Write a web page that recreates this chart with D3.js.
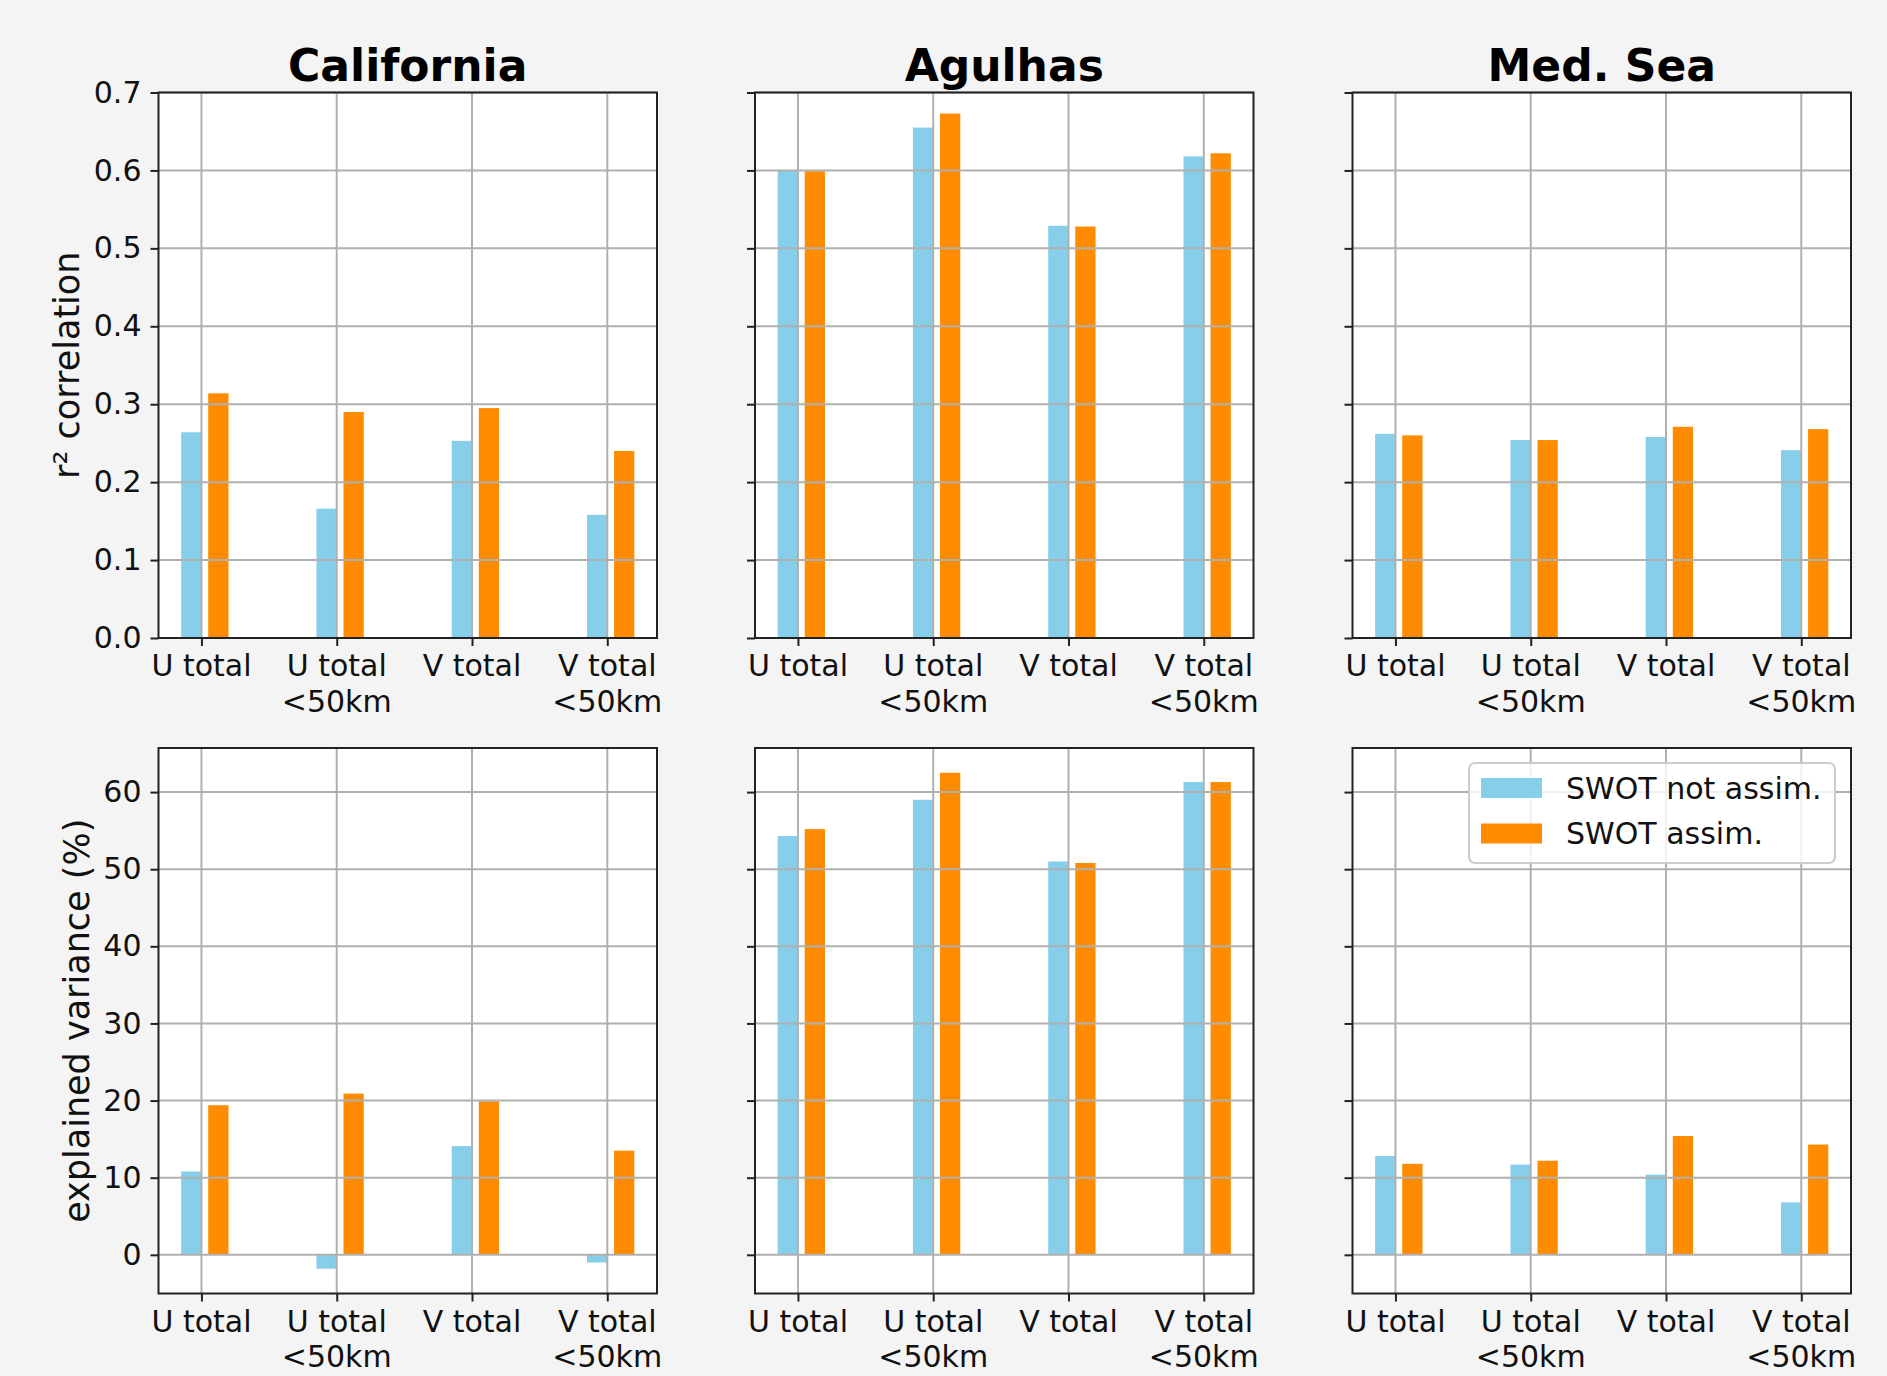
<!DOCTYPE html>
<html>
<head>
<meta charset="utf-8">
<script src="https://cdn.jsdelivr.net/npm/d3@7"></script>
<style>
  html, body { margin: 0; padding: 0; background: #f4f4f4; }
  svg { display: block; font-family: "DejaVu Sans", sans-serif; }
</style>
</head>
<body>
<svg id="chart" width="1887" height="1376"></svg>
<script>
// Regions (columns) and variables (x categories)
const regions = ["California", "Agulhas", "Med. Sea"];
const categories = [["U total"], ["U total", "<50km"], ["V total"], ["V total", "<50km"]];
const seriesNames = ["SWOT not assim.", "SWOT assim."];
const seriesColors = ["#87ceeb", "#ff8c00"];

// r² correlation, one row per region
const r2NotAssim = [
  [0.264, 0.166, 0.253, 0.158],
  [0.600, 0.655, 0.529, 0.618],
  [0.262, 0.254, 0.258, 0.241]
];
const r2Assim = [
  [0.314, 0.290, 0.295, 0.240],
  [0.599, 0.673, 0.528, 0.622],
  [0.260, 0.254, 0.271, 0.268]
];

// explained variance (%), one row per region
const varNotAssim = [
  [10.8, -1.8, 14.1, -1.0],
  [54.3, 59.0, 51.0, 61.3],
  [12.8, 11.7, 10.4, 6.8]
];
const varAssim = [
  [19.4, 20.9, 19.9, 13.5],
  [55.2, 62.5, 50.8, 61.3],
  [11.8, 12.2, 15.4, 14.3]
];

const r2Ticks = [0, 0.1, 0.2, 0.3, 0.4, 0.5, 0.6, 0.7];
const varTicks = [0, 10, 20, 30, 40, 50, 60];

// ---- layout ----
const svg = d3.select("#chart");
const panelLeft = [158.5, 755, 1352.5];
const panelW = 498.5;
const rows = [
  { top: 92.5, bottom: 638, label: "r\u00b2 correlation", labelX: 79,
    a: r2NotAssim, b: r2Assim, ticks: r2Ticks, fmt: d3.format(".1f"), domain: [0, 0.7] },
  { top: 748, bottom: 1293.5, label: "explained variance (%)", labelX: 89,
    a: varNotAssim, b: varAssim, ticks: varTicks, fmt: d3.format("d"), domain: null }
];

// shared y-limits for the variance row: data range (incl. 0) plus 5 % margins
{
  const all = varNotAssim.flat().concat(varAssim.flat(), [0]);
  const lo = d3.min(all), hi = d3.max(all), m = (hi - lo) * 0.05;
  rows[1].domain = [lo - m, hi + m];
}

// x positions: blue bar [i-0.15, i], orange bar [i+0.05, i+0.2], 5 % margins
const barW = 0.15, gap = 0.05;
const xLo = -barW, xHi = categories.length - 1 + gap + barW;
const xm = (xHi - xLo) * 0.05;
const xDomain = [xLo - xm, xHi + xm];

const tickFont = 30, gridColor = "#b0b0b0", spineColor = "#222";

rows.forEach((row, ri) => {
  const y = d3.scaleLinear().domain(row.domain).range([row.bottom, row.top]);
  regions.forEach((reg, ci) => {
    const left = panelLeft[ci], right = left + panelW;
    const x = d3.scaleLinear().domain(xDomain).range([left, right]);
    const g = svg.append("g");

    // axes background
    g.append("rect").attr("x", left).attr("y", row.top)
      .attr("width", panelW).attr("height", row.bottom - row.top).attr("fill", "#fff");

    // bars
    const y0 = y(0);
    categories.forEach((c, i) => {
      const va = row.a[ci][i], vb = row.b[ci][i];
      g.append("rect")
        .attr("x", x(i - barW)).attr("width", x(i) - x(i - barW))
        .attr("y", Math.min(y(va), y0)).attr("height", Math.abs(y(va) - y0))
        .attr("fill", seriesColors[0]);
      g.append("rect")
        .attr("x", x(i + gap)).attr("width", x(i + gap + barW) - x(i + gap))
        .attr("y", Math.min(y(vb), y0)).attr("height", Math.abs(y(vb) - y0))
        .attr("fill", seriesColors[1]);
    });

    // grid (drawn over the bars)
    const grid = g.append("g").attr("stroke", gridColor).attr("stroke-width", 2);
    row.ticks.forEach(t => {
      grid.append("line").attr("x1", left).attr("x2", right)
        .attr("y1", y(t)).attr("y2", y(t));
    });
    categories.forEach((c, i) => {
      grid.append("line").attr("x1", x(i)).attr("x2", x(i))
        .attr("y1", row.top).attr("y2", row.bottom);
    });

    // y axis ticks
    const yAxis = d3.axisLeft(y).tickValues(row.ticks).tickSize(8).tickPadding(9)
      .tickFormat(ci === 0 ? row.fmt : () => "");
    const ya = g.append("g").attr("transform", `translate(${left},0)`).call(yAxis);
    ya.select(".domain").remove();
    ya.selectAll(".tick line").attr("stroke", spineColor).attr("stroke-width", 2);
    ya.selectAll(".tick text").attr("font-size", tickFont).attr("fill", "#111")
      .attr("font-family", "DejaVu Sans");

    // x axis ticks with multi-line labels
    const xAxis = d3.axisBottom(x).tickValues(d3.range(categories.length))
      .tickSize(8).tickFormat(() => "");
    const xa = g.append("g").attr("transform", `translate(0,${row.bottom})`).call(xAxis);
    xa.select(".domain").remove();
    xa.selectAll(".tick line").attr("stroke", spineColor).attr("stroke-width", 2);
    categories.forEach((lines, i) => {
      const t = g.append("text").attr("text-anchor", "middle")
        .attr("font-size", tickFont).attr("fill", "#111");
      lines.forEach((ln, k) => {
        t.append("tspan").attr("x", x(i)).attr("y", row.bottom + 38 + k * 35.5).text(ln);
      });
    });

    // spines
    g.append("rect").attr("x", left).attr("y", row.top)
      .attr("width", panelW).attr("height", row.bottom - row.top)
      .attr("fill", "none").attr("stroke", spineColor).attr("stroke-width", 2);

    // column titles
    if (ri === 0) {
      svg.append("text").attr("x", (left + right) / 2).attr("y", 81)
        .attr("text-anchor", "middle").attr("font-size", 44)
        .attr("font-weight", "bold").attr("fill", "#000").text(reg);
    }

    // y-axis label on the first column
    if (ci === 0) {
      const cy = (row.top + row.bottom) / 2;
      svg.append("text").attr("transform", `translate(${row.labelX},${cy}) rotate(-90)`)
        .attr("text-anchor", "middle").attr("font-size", 35).attr("fill", "#111")
        .text(row.label);
    }

    // legend in the last panel
    if (ri === 1 && ci === regions.length - 1) {
      const lx = right - 16 - 366, ly = row.top + 15;
      const lg = svg.append("g");
      lg.append("rect").attr("x", lx).attr("y", ly).attr("width", 366).attr("height", 100)
        .attr("rx", 6).attr("fill", "#fff").attr("fill-opacity", 0.8)
        .attr("stroke", "#cccccc").attr("stroke-width", 2);
      seriesNames.forEach((name, k) => {
        lg.append("rect").attr("x", lx + 12).attr("y", ly + 15 + k * 45.5)
          .attr("width", 61).attr("height", 20).attr("fill", seriesColors[k]);
        lg.append("text").attr("x", lx + 97).attr("y", ly + 35.5 + k * 45.5)
          .attr("font-size", tickFont).attr("fill", "#111").text(name);
      });
    }
  });
});
</script>
</body>
</html>
